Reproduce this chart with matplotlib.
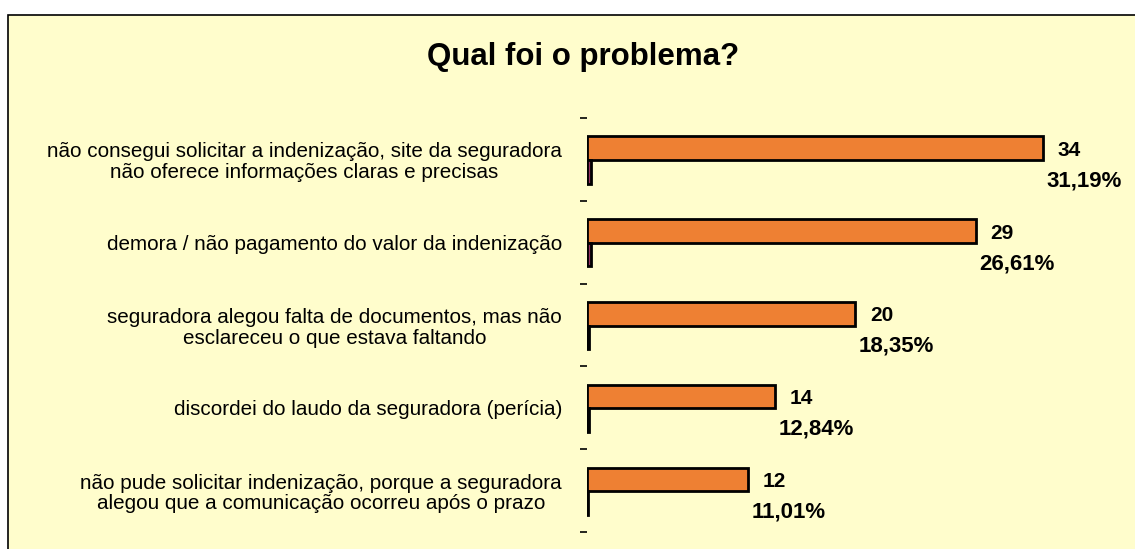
import matplotlib.pyplot as plt
import numpy as np
from matplotlib.patches import Rectangle

# chart data
categories = [
    "não consegui solicitar a indenização, site da seguradora\nnão oferece informações claras e precisas",
    "demora / não pagamento do valor da indenização",
    "seguradora alegou falta de documentos, mas não\nesclareceu o que estava faltando",
    "discordei do laudo da seguradora (perícia)",
    "não pude solicitar indenização, porque a seguradora\nalegou que a comunicação ocorreu após o prazo",
]
counts = [34, 29, 20, 14, 12]
percents = [31.19, 26.61, 18.35, 12.84, 11.01]
pct_labels = ["31,19%", "26,61%", "18,35%", "12,84%", "11,01%"]

plt.rcParams['font.family'] = ['Liberation Sans', 'DejaVu Sans']

bg = '#FFFDCC'
fig = plt.figure(figsize=(11.35, 5.49), dpi=100)
fig.patch.set_facecolor('white')

# panel behind the chart
panel = Rectangle((8 / 1135, -0.05), 1.2, 1 - 15 / 549 + 0.05, transform=fig.transFigure,
                  facecolor=bg, edgecolor='black', linewidth=1.2, zorder=-10)
fig.patches.append(panel)

fig.text(583 / 1135, 1 - 57 / 549, "Qual foi o problema?", ha='center', va='center',
         fontsize=22.5, fontweight='bold')

ax = fig.add_axes([587 / 1135, 1 - 532 / 549, 536 / 1135, (532 - 118) / 549])
ax.set_facecolor('none')

y = np.arange(len(categories))
h = 0.285
ax.barh(y - 0.135, counts, height=h, color='#EE8033', edgecolor='black', linewidth=2)
ax.barh(y + 0.15, np.array(percents) / 100, height=h, color='#993366',
        edgecolor='black', linewidth=2)

for i in range(len(categories)):
    ax.annotate(str(counts[i]), (counts[i], y[i] - 0.135), xytext=(15, -2),
                textcoords='offset pixels', ha='left', va='center',
                fontsize=15, fontweight='bold')
    ax.annotate(pct_labels[i], (counts[i], y[i] + 0.15), xytext=(4, -9),
                textcoords='offset pixels', ha='left', va='center',
                fontsize=16, fontweight='bold')

ax.set_xlim(0, 40)
ax.set_ylim(len(categories) - 0.5, -0.5)
ax.set_xticks([])
ax.set_yticks(y)
ax.set_yticklabels(categories, fontsize=14.9, multialignment='center', linespacing=1.12)
ax.tick_params(axis='y', which='major', length=0, pad=18)
ax.set_yticks(np.arange(len(categories) + 1) - 0.5, minor=True)
ax.tick_params(axis='y', which='minor', length=5, width=1.2, pad=0)
for s in ax.spines.values():
    s.set_visible(False)

fig.savefig('out.png', dpi=100, facecolor=fig.get_facecolor())
